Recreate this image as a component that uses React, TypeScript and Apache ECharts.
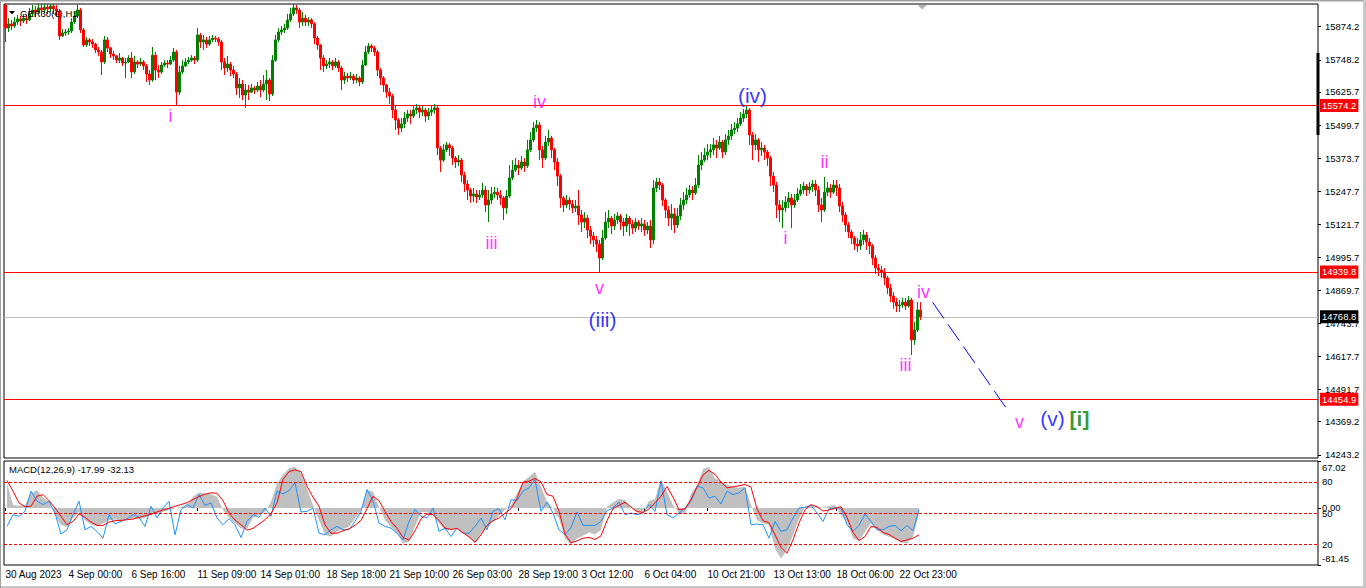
import React, { useEffect, useRef } from "react";
import * as echarts from "echarts";

// ---------- data ----------
const symbolTitle = "GER30(€),H1";
const macdTitle = "MACD(12,26,9) -17.99 -32.13";

const firstOpen = 15957;
const closes = [
  15869, 15885, 15877, 15892, 15904, 15896, 15907, 15900, 15923, 15938,
  15930, 15946, 15938, 15949, 15942, 15953, 15942, 15934, 15839, 15850,
  15854, 15858, 15892, 15915, 15938, 15862, 15805, 15824, 15816, 15808,
  15786, 15778, 15740, 15824, 15793, 15770, 15763, 15747, 15755, 15736,
  15740, 15755, 15702, 15740, 15732, 15740, 15725, 15694, 15671, 15766,
  15709, 15702, 15728, 15736, 15732, 15747, 15778, 15625, 15702, 15725,
  15740, 15747, 15755, 15747, 15843, 15816, 15824, 15808, 15824, 15831,
  15827, 15816, 15740, 15717, 15732, 15709, 15694, 15641, 15656, 15614,
  15633, 15625, 15641, 15633, 15648, 15633, 15656, 15671, 15618, 15747,
  15824, 15854, 15862, 15869, 15900, 15923, 15946, 15938, 15892, 15907,
  15892, 15900, 15885, 15831, 15805, 15755, 15725, 15732, 15740, 15725,
  15740, 15717, 15671, 15686, 15679, 15686, 15671, 15679, 15664, 15728,
  15778, 15801, 15793, 15778, 15709, 15679, 15652, 15625, 15610, 15557,
  15519, 15488, 15504, 15526, 15542, 15534, 15557, 15565, 15549, 15557,
  15534, 15549, 15557, 15565, 15412, 15366, 15405, 15424, 15412, 15374,
  15359, 15366, 15309, 15275, 15252, 15229, 15237, 15225, 15233, 15252,
  15195, 15214, 15237, 15244, 15233, 15222, 15184, 15229, 15298, 15328,
  15347, 15336, 15359, 15344, 15405, 15443, 15488, 15500, 15405, 15374,
  15435, 15450, 15405, 15359, 15305, 15222, 15195, 15214, 15199, 15184,
  15191, 15157, 15130, 15145, 15100, 15077, 15062, 15046, 14993, 15069,
  15130, 15145, 15115, 15138, 15153, 15130, 15115, 15145, 15123, 15107,
  15130, 15115, 15123, 15100, 15115, 15062, 15260, 15283, 15271, 15214,
  15176, 15145, 15161, 15119, 15153, 15195, 15214, 15233, 15252, 15241,
  15271, 15347, 15366, 15385, 15397, 15405, 15424, 15412, 15435, 15397,
  15443, 15458, 15481, 15488, 15504, 15526, 15542, 15557, 15462, 15424,
  15443, 15405, 15412, 15397, 15374, 15305, 15271, 15195, 15176, 15184,
  15206, 15222, 15195, 15214, 15237, 15252, 15267, 15252, 15264, 15275,
  15252, 15195, 15176, 15244, 15260, 15244, 15271, 15260, 15191, 15157,
  15119, 15092, 15069, 15046, 15039, 15062, 15081, 15054, 15039, 14993,
  14955, 14947, 14940, 14917, 14879, 14848, 14825, 14810, 14814, 14825,
  14810, 14833, 14681, 14719, 14795, 14769,
];
const highs = [
  15961, 15907, 15900, 15911, 15919, 15915, 15923, 15919, 15946, 15957,
  15953, 15961, 15961, 15961, 15961, 15961, 15961, 15957, 15942, 15866,
  15866, 15869, 15907, 15930, 15961, 15946, 15869, 15835, 15831, 15827,
  15812, 15797, 15786, 15839, 15835, 15797, 15782, 15766, 15774, 15759,
  15755, 15766, 15778, 15763, 15747, 15755, 15747, 15732, 15709, 15797,
  15778, 15728, 15740, 15747, 15747, 15763, 15793, 15786, 15725, 15747,
  15755, 15759, 15766, 15763, 15869, 15850, 15843, 15835, 15839, 15843,
  15839, 15835, 15824, 15755, 15763, 15740, 15725, 15702, 15679, 15671,
  15656, 15652, 15656, 15648, 15664, 15671, 15690, 15709, 15679, 15766,
  15843, 15869, 15877, 15885, 15923, 15946, 15961, 15957, 15946, 15930,
  15919, 15911, 15907, 15892, 15839, 15808, 15766, 15747, 15755, 15747,
  15755, 15747, 15725, 15702, 15698, 15702, 15694, 15694, 15686, 15747,
  15801, 15812, 15808, 15801, 15786, 15717, 15686, 15656, 15641, 15618,
  15576, 15526, 15526, 15549, 15557, 15557, 15572, 15580, 15576, 15572,
  15565, 15565, 15572, 15580, 15572, 15420, 15427, 15435, 15431, 15420,
  15382, 15385, 15374, 15321, 15290, 15260, 15260, 15252, 15252, 15279,
  15267, 15252, 15264, 15264, 15260, 15252, 15229, 15252, 15347, 15366,
  15374, 15366, 15382, 15374, 15443, 15473, 15511, 15519, 15511, 15420,
  15458, 15481, 15458, 15412, 15374, 15313, 15229, 15233, 15225, 15214,
  15214, 15252, 15176, 15168, 15157, 15115, 15092, 15077, 15062, 15100,
  15168, 15176, 15153, 15161, 15168, 15161, 15145, 15161, 15153, 15138,
  15145, 15138, 15145, 15138, 15130, 15138, 15290, 15298, 15298, 15279,
  15222, 15191, 15199, 15184, 15184, 15222, 15244, 15260, 15271, 15267,
  15298, 15385, 15397, 15412, 15427, 15427, 15450, 15443, 15458, 15443,
  15465, 15481, 15504, 15511, 15526, 15549, 15561, 15572, 15565, 15473,
  15465, 15450, 15435, 15424, 15405, 15382, 15321, 15283, 15214, 15214,
  15229, 15244, 15237, 15237, 15260, 15275, 15283, 15275, 15283, 15290,
  15290, 15267, 15222, 15302, 15283, 15275, 15290, 15290, 15275, 15206,
  15168, 15130, 15100, 15077, 15069, 15092, 15100, 15092, 15069, 15046,
  15004, 14970, 14963, 14955, 14924, 14894, 14863, 14841, 14833, 14841,
  14841, 14848, 14841, 14749, 14825, 14825,
];
const lows = [
  15816, 15854, 15862, 15869, 15881, 15877, 15888, 15885, 15896, 15915,
  15911, 15923, 15919, 15926, 15923, 15930, 15923, 15915, 15824, 15835,
  15839, 15843, 15850, 15885, 15907, 15850, 15797, 15797, 15801, 15793,
  15774, 15763, 15690, 15732, 15778, 15755, 15747, 15736, 15736, 15725,
  15679, 15736, 15679, 15694, 15717, 15725, 15709, 15664, 15652, 15664,
  15671, 15679, 15694, 15721, 15717, 15728, 15740, 15576, 15614, 15694,
  15721, 15732, 15740, 15732, 15740, 15793, 15786, 15793, 15801, 15816,
  15816, 15801, 15709, 15690, 15702, 15686, 15679, 15614, 15603, 15595,
  15565, 15595, 15622, 15618, 15625, 15606, 15625, 15595, 15591, 15610,
  15740, 15816, 15843, 15850, 15862, 15892, 15915, 15923, 15869, 15877,
  15877, 15877, 15869, 15808, 15786, 15709, 15702, 15713, 15717, 15709,
  15717, 15702, 15633, 15656, 15664, 15671, 15656, 15660, 15648, 15656,
  15725, 15770, 15778, 15763, 15686, 15652, 15625, 15603, 15580, 15526,
  15481, 15462, 15473, 15488, 15511, 15504, 15526, 15542, 15526, 15534,
  15511, 15519, 15534, 15542, 15385, 15321, 15359, 15397, 15382, 15347,
  15336, 15344, 15283, 15244, 15214, 15203, 15206, 15203, 15214, 15222,
  15168, 15130, 15199, 15222, 15214, 15195, 15138, 15161, 15222, 15290,
  15321, 15309, 15328, 15321, 15336, 15397, 15435, 15473, 15366, 15336,
  15366, 15420, 15374, 15328, 15267, 15184, 15168, 15184, 15176, 15164,
  15168, 15119, 15092, 15107, 15069, 15046, 15035, 15016, 14940, 14985,
  15062, 15107, 15084, 15100, 15123, 15100, 15077, 15092, 15077, 15084,
  15092, 15100, 15092, 15077, 15084, 15031, 15046, 15244, 15252, 15191,
  15145, 15115, 15100, 15088, 15107, 15138, 15176, 15199, 15222, 15214,
  15233, 15260, 15328, 15359, 15366, 15374, 15385, 15374, 15405, 15374,
  15385, 15424, 15443, 15465, 15473, 15496, 15511, 15526, 15424, 15366,
  15405, 15359, 15382, 15366, 15344, 15267, 15244, 15145, 15130, 15107,
  15168, 15184, 15107, 15184, 15206, 15229, 15237, 15229, 15237, 15244,
  15229, 15168, 15130, 15168, 15229, 15222, 15237, 15229, 15168, 15130,
  15092, 15069, 15046, 15024, 15016, 15024, 15043, 15024, 15008, 14966,
  14932, 14924, 14917, 14890, 14856, 14825, 14799, 14787, 14787, 14803,
  14795, 14803, 14623, 14662, 14711, 14757,
];

const priceTicks = [
  15874.2, 15748.2, 15625.7, 15499.7, 15373.7, 15247.7, 15121.7,
  14995.7, 14869.7, 14743.7, 14617.7, 14491.7, 14369.2, 14243.2,
];
const levelPrices = [15574.2, 14939.8, 14454.9];
const lastPrice = 14768.8;

const timeLabelIdx = [0, 21, 42, 64, 85, 107, 128, 149, 171, 192, 213, 234, 256, 277, 298];
const timeLabels = [
  "30 Aug 2023", "4 Sep 00:00", "6 Sep 16:00", "11 Sep 09:00", "14 Sep 01:00",
  "18 Sep 18:00", "21 Sep 10:00", "26 Sep 03:00", "28 Sep 19:00", "3 Oct 12:00",
  "6 Oct 04:00", "10 Oct 21:00", "13 Oct 13:00", "18 Oct 06:00", "22 Oct 23:00",
];

// MACD histogram (grey), on the MACD scale
const macdHist = [
  35.1, 4.1, 3.2, 4.1, 20.8, 25.6, 14.6, 8.9, -10.1, -24.4,
  -26.8, -14.0, -6.3, -17.5, -23.5, -26.3, -22.0, -17.5, -16.5, -17.5,
  -16.0, -15.1, -16.0, -14.0, -9.2, -7.8, -5.4, -3.0, -0.6, 1.8,
  4.1, 16.0, 22.2, 20.8, 19.4, 16.0, -3.0, -14.0, -22.0, -29.2,
  -30.1, -14.0, -10.1, -6.3, 8.9, 35.1, 47.0, 56.5, 58.9, 49.4,
  28.0, 4.1, -17.5, -38.8, -40.6, -34.0, -30.1, -26.8, -15.1, -3.0,
  25.6, 23.2, 1.8, -17.5, -26.8, -36.3, -50.6, -48.2, -26.8, -6.3,
  -6.3, -9.2, -22.0, -31.6, -31.6, -29.2, -36.3, -41.1, -50.6, -36.3,
  -26.8, -19.7, -11.1, -3.0, 4.1, 20.8, 37.5, 44.6, 51.8, 30.3,
  8.9, -0.6, -15.1, -43.5, -52.0, -43.5, -39.7, -34.9, -37.8, -31.6,
  1.8, 8.0, 12.7, 11.3, -0.6, -6.3, -5.4, 9.9, 12.7, 41.3,
  23.2, 4.1, -7.8, -9.2, 20.8, 31.8, 55.6, 58.4, 42.2, 38.4,
  32.7, 30.3, 28.9, 30.3, 4.1, -17.5, -22.0, -24.4, -57.8, -72.0,
  -60.1, -38.8, -15.1, 1.8, 3.2, 1.8, 0.3, 2.7, 4.1, -10.1,
  -19.7, -43.5, -47.3, -34.0, -22.0, -31.6, -37.8, -41.1, -44.4, -49.2,
  -50.6, -41.1, -7.8,
];
// red and blue oscillator lines, on the 0-100 scale (levels 20 / 50 / 80)
const redLine = [
  81.3, 71.0, 59.7, 56.1, 56.5, 66.1, 67.7, 61.9, 54.8, 46.8,
  38.7, 41.9, 49.0, 45.8, 41.3, 38.1, 38.1, 41.3, 42.6, 42.9,
  43.5, 44.2, 45.8, 47.4, 48.7, 51.0, 52.9, 54.5, 56.5, 58.1,
  60.0, 62.9, 65.8, 68.1, 69.4, 69.0, 61.9, 50.0, 43.2, 38.7,
  33.5, 35.2, 39.4, 43.5, 49.4, 59.7, 82.3, 89.7, 91.6, 89.7,
  75.8, 65.2, 56.5, 38.7, 30.6, 30.6, 32.9, 34.8, 38.1, 42.9,
  54.2, 66.1, 61.9, 51.6, 41.9, 35.2, 26.5, 23.9, 32.9, 44.5,
  49.0, 48.4, 42.9, 35.5, 34.2, 35.2, 31.0, 27.1, 21.9, 29.0,
  38.1, 42.6, 45.2, 49.7, 54.2, 63.9, 79.7, 80.6, 83.2, 80.0,
  67.7, 66.1, 51.6, 29.7, 21.3, 23.2, 25.8, 26.5, 24.5, 28.1,
  42.6, 54.2, 57.4, 60.3, 55.8, 51.3, 50.6, 53.9, 59.7, 66.1,
  75.5, 65.2, 53.2, 53.9, 63.2, 74.8, 86.5, 91.0, 87.1, 79.7,
  74.2, 75.2, 76.1, 77.4, 74.8, 53.9, 42.6, 40.6, 29.0, 16.8,
  11.3, 24.2, 40.3, 53.2, 58.1, 56.1, 51.9, 52.9, 54.5, 56.1,
  45.8, 31.3, 23.5, 27.4, 37.1, 36.1, 31.3, 29.4, 25.8, 22.6,
  24.2, 25.8, 29.0,
];
const blueLine = [
  37.1, 48.4, 46.8, 51.6, 71.0, 61.3, 58.1, 61.3, 50.0, 29.7,
  33.9, 48.4, 61.3, 33.9, 37.1, 32.3, 25.8, 48.4, 39.4, 41.9,
  44.5, 48.4, 45.8, 37.1, 56.5, 45.2, 54.8, 61.3, 29.0, 53.2,
  58.1, 54.8, 67.7, 57.4, 59.7, 45.2, 38.7, 44.5, 38.7, 26.5,
  41.9, 48.4, 45.8, 54.8, 46.8, 71.0, 68.4, 71.6, 79.0, 51.0,
  51.6, 54.8, 30.6, 29.0, 33.9, 37.1, 33.9, 33.9, 41.9, 51.6,
  72.6, 61.9, 40.3, 37.1, 35.5, 30.6, 24.2, 41.9, 53.2, 46.8,
  45.2, 54.8, 32.3, 35.5, 27.4, 35.5, 30.6, 30.6, 37.1, 45.2,
  33.9, 51.6, 54.2, 43.5, 62.9, 61.9, 71.0, 74.2, 82.3, 51.6,
  60.6, 50.0, 33.9, 29.0, 36.1, 51.0, 38.1, 38.1, 38.1, 41.9,
  52.3, 54.8, 60.6, 48.4, 50.0, 48.4, 50.0, 58.1, 51.6, 80.6,
  48.4, 45.2, 50.0, 54.2, 61.3, 75.8, 74.2, 64.5, 66.1, 58.7,
  71.0, 67.7, 69.4, 74.2, 38.7, 39.4, 38.7, 25.8, 41.9, 32.3,
  33.9, 45.2, 54.8, 55.5, 57.4, 50.0, 41.9, 54.2, 54.8, 54.8,
  38.7, 32.3, 38.1, 49.0, 41.9, 33.9, 33.9, 37.1, 38.1, 32.9,
  38.1, 32.9, 53.2,
];
const macdTicks = [67.02, 0, -81.45];
const oscLevels = [80, 50, 20];

// Elliott wave labels: text, bar index, price, degree
const waveText = ["i", "iii", "iv", "v", "(iii)", "(iv)", "i", "ii", "iii", "iv", "v", "(v)", "[i]"];
const waveIdx = [55, 162, 178, 198, 199, 249, 260, 273, 300, 306, 338, 349, 358];
const wavePrice = [15534, 15050, 15589, 14879, 14757, 15614, 15069, 15360, 14585, 14865, 14369, 14383, 14383];
const waveDegree = ["minuette", "minuette", "minuette", "minuette", "minute", "minute", "minuette", "minuette", "minuette", "minuette", "minuette", "minute", "minor"];

// projected path (dashed)
const projIdx = [309, 334];
const projPrice = [14825, 14414];

// ---------- layout ----------
const PLOT_LEFT = 4;
const PLOT_W = 1314;
const MAIN_TOP = 4;
const MAIN_H = 454;
const SUB_TOP = 461;
const SUB_H = 104;
const MAIN_SLOTS = 438;
const SUB_SLOTS = 219;
const PRICE_MIN = 14231;
const PRICE_MAX = 15960.8;
const FONT = "'Liberation Sans', Arial, sans-serif";

const degreeStyle: Record<string, any> = {
  minuette: { color: "#ff00ff", fontSize: 18 },
  minute: { color: "#0000ff", fontSize: 21 },
  minor: { color: "#008000", fontSize: 21, fontWeight: "bold" },
};

export default function App() {
  const ref = useRef<HTMLDivElement>(null);

  useEffect(() => {
    if (!ref.current) return;
    const chart = echarts.init(ref.current, undefined, { renderer: "svg" });

    const mainCats = Array.from({ length: MAIN_SLOTS }, (_, i) => String(i));
    const subCats = Array.from({ length: SUB_SLOTS }, (_, i) => String(i));
    const candleData = closes.map((c, i) => [i === 0 ? firstOpen : closes[i - 1], c, lows[i], highs[i]]);
    const labelSet = new Set(timeLabelIdx);

    const lvlLabel = (bg: string) => ({
      show: true,
      position: "end",
      distance: 2,
      backgroundColor: bg,
      color: "#fff",
      fontSize: 9.5,
      fontFamily: FONT,
      padding: [2, 2, 1, 2],
    });

    const option: any = {
      animation: false,
      backgroundColor: "#ffffff",
      textStyle: { fontFamily: FONT },
      grid: [
        { left: PLOT_LEFT, top: MAIN_TOP, width: PLOT_W, height: MAIN_H, show: true, borderColor: "#000", borderWidth: 1, backgroundColor: "transparent" },
        { left: PLOT_LEFT, top: SUB_TOP, width: PLOT_W, height: SUB_H, show: true, borderColor: "#000", borderWidth: 1, backgroundColor: "transparent" },
      ],
      xAxis: [
        { type: "category", gridIndex: 0, data: mainCats, show: false, boundaryGap: true },
        {
          type: "category",
          gridIndex: 1,
          data: mainCats,
          boundaryGap: true,
          position: "bottom",
          axisLine: { show: false },
          splitLine: { show: false },
          axisTick: {
            show: true,
            alignWithLabel: true,
            length: 3,
            interval: (i: number) => labelSet.has(i),
            lineStyle: { color: "#000" },
          },
          axisLabel: {
            interval: (i: number) => labelSet.has(i),
            formatter: (_v: string, i: number) => {
              const k = timeLabelIdx.indexOf(i);
              return k >= 0 ? timeLabels[k] : "";
            },
            align: "left",
            margin: 4,
            fontSize: 10,
            color: "#000",
            fontFamily: FONT,
          },
        },
        { type: "category", gridIndex: 1, data: subCats, show: false, boundaryGap: true },
      ],
      yAxis: [
        {
          type: "value",
          gridIndex: 0,
          position: "right",
          min: PRICE_MIN,
          max: PRICE_MAX,
          splitLine: { show: false },
          axisLine: { show: false },
          axisTick: { show: true, length: 3, customValues: priceTicks, lineStyle: { color: "#000" } },
          axisLabel: {
            customValues: priceTicks,
            formatter: (v: number) => v.toFixed(1),
            margin: 7,
            fontSize: 9.5,
            color: "#000",
            fontFamily: FONT,
          },
        },
        {
          type: "value",
          gridIndex: 1,
          position: "right",
          min: -81.45,
          max: 67.02,
          splitLine: { show: false },
          axisLine: { show: false },
          axisTick: { show: true, length: 3, customValues: macdTicks, lineStyle: { color: "#000" } },
          axisLabel: {
            customValues: macdTicks,
            formatter: (v: number) =>
              v > 60 ? `{top|${v.toFixed(2)}}` : v < -60 ? `{bot|${v.toFixed(2)}}` : v.toFixed(2),
            margin: 4,
            fontSize: 9.5,
            color: "#000",
            fontFamily: FONT,
            rich: {
              top: { padding: [13, 0, 0, 0], fontSize: 9.5, color: "#000", fontFamily: FONT },
              bot: { padding: [0, 0, 13, 0], fontSize: 9.5, color: "#000", fontFamily: FONT },
            },
          },
        },
        {
          type: "value",
          gridIndex: 1,
          position: "right",
          min: 0,
          max: 100,
          splitLine: { show: false },
          axisLine: { show: false },
          axisTick: { show: false },
          axisLabel: {
            customValues: oscLevels,
            formatter: (v: number) => String(v),
            margin: 4,
            fontSize: 9.5,
            color: "#000",
            fontFamily: FONT,
          },
        },
      ],
      series: [
        {
          type: "candlestick",
          xAxisIndex: 0,
          yAxisIndex: 0,
          data: candleData,
          barWidth: 1.6,
          itemStyle: {
            color: "#008000",
            color0: "#ff0000",
            borderColor: "#008000",
            borderColor0: "#ff0000",
            borderWidth: 1,
          },
          markLine: {
            silent: true,
            symbol: "none",
            animation: false,
            z: 1,
            data: [
              ...levelPrices.map((p) => ({
                yAxis: p,
                lineStyle: { color: "#ff0000", width: 1, type: "solid" },
                label: { ...lvlLabel("#ff0000"), formatter: () => p.toFixed(1) },
              })),
              {
                yAxis: lastPrice,
                lineStyle: { color: "#c0c0c0", width: 1, type: "solid" },
                label: { ...lvlLabel("#000000"), formatter: () => lastPrice.toFixed(1) },
              },
            ],
          },
        },
        {
          type: "line",
          xAxisIndex: 0,
          yAxisIndex: 0,
          data: projIdx.map((x, i) => [x, projPrice[i]]),
          symbol: "none",
          lineStyle: { color: "#0000ff", width: 1, type: [20, 7] },
          z: 3,
        },
        {
          type: "scatter",
          xAxisIndex: 0,
          yAxisIndex: 0,
          symbolSize: 0,
          z: 5,
          data: waveText.map((t, i) => ({
            value: [waveIdx[i], wavePrice[i]],
            name: t,
            label: { ...degreeStyle[waveDegree[i]] },
          })),
          label: {
            show: true,
            position: "inside",
            fontFamily: FONT,
            formatter: (p: any) => p.name,
          },
        },
        {
          type: "line",
          xAxisIndex: 2,
          yAxisIndex: 1,
          data: macdHist,
          symbol: "none",
          lineStyle: { width: 0, color: "#c0c0c0" },
          areaStyle: { color: "#c0c0c0", opacity: 1, origin: 0 },
          z: 1,
        },
        {
          type: "line",
          xAxisIndex: 2,
          yAxisIndex: 2,
          data: blueLine,
          symbol: "none",
          lineStyle: { width: 1, color: "#1e90ff" },
          z: 2,
          markLine: {
            silent: true,
            symbol: "none",
            animation: false,
            label: { show: false },
            lineStyle: { color: "#ff0000", width: 1, type: [3, 2] },
            data: oscLevels.map((v) => ({ yAxis: v })),
          },
        },
        {
          type: "line",
          xAxisIndex: 2,
          yAxisIndex: 2,
          data: redLine,
          symbol: "none",
          lineStyle: { width: 1, color: "#ff0000" },
          z: 3,
        },
      ],
      graphic: [
        { type: "rect", shape: { x: 0, y: 0, width: 1366, height: 1.5 }, style: { fill: "#a0a0a0" }, silent: true },
        { type: "rect", shape: { x: 0, y: 586, width: 1366, height: 2 }, style: { fill: "#c8c8c8" }, silent: true },
        { type: "rect", shape: { x: 0, y: 0, width: 1, height: 588 }, style: { fill: "#a0a0a0" }, silent: true },
        { type: "rect", shape: { x: 1363, y: 0, width: 3, height: 588 }, style: { fill: "#c8c8c8" }, silent: true },
        { type: "rect", shape: { x: 1316.5, y: 53, width: 3, height: 82 }, style: { fill: "#000" }, silent: true },
        { type: "polygon", shape: { points: [[917.5, 5], [927, 5], [922.2, 9.5]] }, style: { fill: "#b4b4b4" }, silent: true },
        { type: "polygon", shape: { points: [[9, 11], [15, 11], [12, 14.5]] }, style: { fill: "#000" }, silent: true, z: 10 },
        {
          type: "text",
          x: 20,
          y: 13,
          z: 10,
          silent: true,
          style: { text: symbolTitle, fill: "#000", font: `9.5px ${FONT}`, verticalAlign: "middle", align: "left" },
        },
        {
          type: "text",
          x: 9,
          y: 469,
          z: 10,
          silent: true,
          style: { text: macdTitle, fill: "#000", font: `9.5px ${FONT}`, verticalAlign: "middle", align: "left" },
        },
      ],
    };

    chart.setOption(option);
    return () => chart.dispose();
  }, []);

  return (
    <div
      ref={ref}
      style={{ position: "fixed", left: 0, top: 0, width: 1366, height: 588, background: "#fff" }}
    />
  );
}
